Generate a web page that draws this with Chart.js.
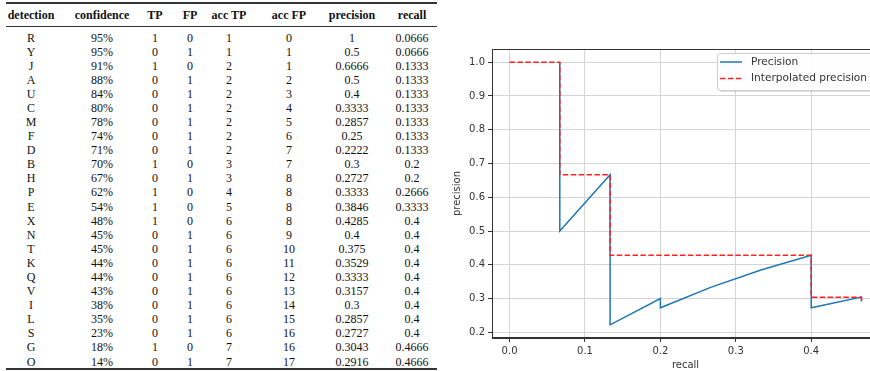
<!DOCTYPE html>
<html><head><meta charset="utf-8">
<script src="https://cdn.jsdelivr.net/npm/chart.js@4.4.1/dist/chart.umd.min.js"></script>
<style>
html,body{margin:0;padding:0;width:870px;height:371px;overflow:hidden;background:#fff}
#tbl{position:absolute;left:0;top:0;width:440px;height:371px;font-family:"Liberation Serif","Times New Roman",serif;font-size:12px;color:#111}
.rule{position:absolute;left:6px;width:431px;background:#333}
.cell{position:absolute;transform:translateX(-50%);white-space:nowrap;line-height:14px;height:14px}
.hd{font-weight:bold}
#wrap{position:absolute;left:440px;top:0;width:440px;height:371px}
</style></head><body>
<div id="tbl"></div>
<div id="wrap"><canvas id="c" width="440" height="371"></canvas></div>
<script>
// ---- table data ----
const headers = ['detection','confidence','TP','FP','acc TP','acc FP','precision','recall'];
const detections = ['R','Y','J','A','U','C','M','F','D','B','H','P','E','X','N','T','K','Q','V','I','L','S','G','O'];
const confidence = ['95%','95%','91%','88%','84%','80%','78%','74%','71%','70%','67%','62%','54%','48%','45%','45%','44%','44%','43%','38%','35%','23%','18%','14%'];
const tp = [1,0,1,0,0,0,0,0,0,1,0,1,1,1,0,0,0,0,0,0,0,0,1,0];
const fp = [0,1,0,1,1,1,1,1,1,0,1,0,0,0,1,1,1,1,1,1,1,1,0,1];
const accTP = [1,1,2,2,2,2,2,2,2,3,3,4,5,6,6,6,6,6,6,6,6,6,7,7];
const accFP = [0,1,1,2,3,4,5,6,7,7,8,8,8,8,9,10,11,12,13,14,15,16,16,17];
const precision = ['1','0.5','0.6666','0.5','0.4','0.3333','0.2857','0.25','0.2222','0.3','0.2727','0.3333','0.3846','0.4285','0.4','0.375','0.3529','0.3333','0.3157','0.3','0.2857','0.2727','0.3043','0.2916'];
const recall = ['0.0666','0.0666','0.1333','0.1333','0.1333','0.1333','0.1333','0.1333','0.1333','0.2','0.2','0.2666','0.3333','0.4','0.4','0.4','0.4','0.4','0.4','0.4','0.4','0.4','0.4666','0.4666'];

// ---- chart data ----
const interpRecall = [0,0.0666,0.0666,0.1333,0.1333,0.4,0.4,0.4666,0.4666];
const interpPrecision = [1,1,0.6666,0.6666,0.4285,0.4285,0.3043,0.3043,0.2916];
const xTicks = [0,0.1,0.2,0.3,0.4];
const xTickLabels = ['0.0','0.1','0.2','0.3','0.4'];
const yTicks = [0.2,0.3,0.4,0.5,0.6,0.7,0.8,0.9,1.0];
const yTickLabels = ['0.2','0.3','0.4','0.5','0.6','0.7','0.8','0.9','1.0'];
const legendLabels = ['Precision','Interpolated precision'];

// ---- build table ----
(function(){
  const tbl = document.getElementById('tbl');
  const colX = [31,102,155,190,229,289,352,412];
  const cols = [detections,confidence,tp,fp,accTP,accFP,precision,recall];
  function rule(y,h){const d=document.createElement('div');d.className='rule';d.style.top=y+'px';d.style.height=h+'px';tbl.appendChild(d);}
  function cell(txt,x,cy,cls){const s=document.createElement('span');s.className='cell'+(cls?' '+cls:'');s.textContent=txt;s.style.left=x+'px';s.style.top=(cy-7)+'px';tbl.appendChild(s);}
  rule(2,2); rule(25.5,1); rule(368,2);
  headers.forEach((h,i)=>cell(h,colX[i],14.5,'hd'));
  for(let r=0;r<detections.length;r++){
    const cy = 37.5 + r*14.09;
    cols.forEach((c,i)=>cell(String(c[r]),colX[i],cy));
  }
})();

// ---- chart ----
const precPts = recall.map((r,i)=>({x:parseFloat(r),y:parseFloat(precision[i])}));
const interpPts = interpRecall.map((r,i)=>({x:r,y:interpPrecision[i]}));
const tickFont = {family:'"DejaVu Sans", sans-serif', size:10};

const framePlugin = {
  id:'frame',
  afterDatasetsDraw(chart){
    const {ctx, chartArea:a} = chart;
    ctx.save();
    ctx.strokeStyle='#333'; ctx.lineWidth=1;
    ctx.strokeRect(a.left+0.5,a.top+0.5,a.right-a.left-1,a.bottom-a.top-1);
    ctx.restore();
  },
  afterDraw(chart){
    const ctx = chart.ctx;
    const bx=277.5, by=53.5, bw=165, bh=37;
    ctx.save();
    ctx.fillStyle='rgba(0,0,0,0.12)';
    ctx.beginPath(); ctx.roundRect(bx+1.5,by+1.5,bw,bh,3); ctx.fill();
    ctx.fillStyle='rgba(255,255,255,0.95)';
    ctx.strokeStyle='#cccccc'; ctx.lineWidth=1;
    ctx.beginPath(); ctx.roundRect(bx,by,bw,bh,3); ctx.fill(); ctx.stroke();
    const ds = chart.data.datasets;
    const rows=[62,78.5];
    ds.forEach((d,i)=>{
      ctx.strokeStyle=d.borderColor; ctx.lineWidth=1.5;
      ctx.setLineDash(d.borderDash||[]);
      ctx.beginPath(); ctx.moveTo(280,rows[i]); ctx.lineTo(302,rows[i]); ctx.stroke();
      ctx.setLineDash([]);
      ctx.fillStyle='#333'; ctx.font='10.6px "DejaVu Sans", sans-serif';
      ctx.textBaseline='middle'; ctx.textAlign='left';
      ctx.fillText(legendLabels[i],311,rows[i]);
    });
    ctx.restore();
  }
};

new Chart(document.getElementById('c'),{
  type:'line',
  data:{datasets:[
    {label:legendLabels[0],data:precPts,borderColor:'#1f77b4',borderWidth:1.5,pointRadius:0,fill:false,tension:0,order:2},
    {label:legendLabels[1],data:interpPts,borderColor:'#ff2020',borderWidth:1.5,borderDash:[5.5,2.4],pointRadius:0,fill:false,tension:0,order:1}
  ]},
  options:{
    responsive:false, animation:false,
    layout:{padding:{top:49,right:1,left:0,bottom:0}},
    plugins:{legend:{display:false},tooltip:{enabled:false}},
    scales:{
      x:{type:'linear',min:-0.0233,max:0.4899,
        afterBuildTicks:s=>{s.ticks=xTicks.map(v=>({value:v}));},
        afterFit:s=>{s.height=33;},
        ticks:{callback:(v,i)=>xTickLabels[i],font:tickFont,color:'#333',padding:3,maxRotation:0,autoSkip:false},
        grid:{color:'#d4d4d4',lineWidth:1,tickColor:'#333',tickLength:4},
        border:{color:'#333'},
        title:{display:true,text:'recall',font:tickFont,color:'#333',padding:{top:0,bottom:0}}
      },
      y:{type:'linear',min:0.1833,max:1.0389,
        afterBuildTicks:s=>{s.ticks=yTicks.map(v=>({value:v}));},
        afterFit:s=>{s.width=52;},
        ticks:{callback:(v,i)=>yTickLabels[i],font:tickFont,color:'#333',padding:3,autoSkip:false},
        grid:{color:'#d4d4d4',lineWidth:1,tickColor:'#333',tickLength:4},
        border:{color:'#333'},
        title:{display:true,text:'precision',font:tickFont,color:'#333',padding:{top:11,bottom:0}}
      }
    }
  },
  plugins:[framePlugin]
});
</script>
</body></html>
